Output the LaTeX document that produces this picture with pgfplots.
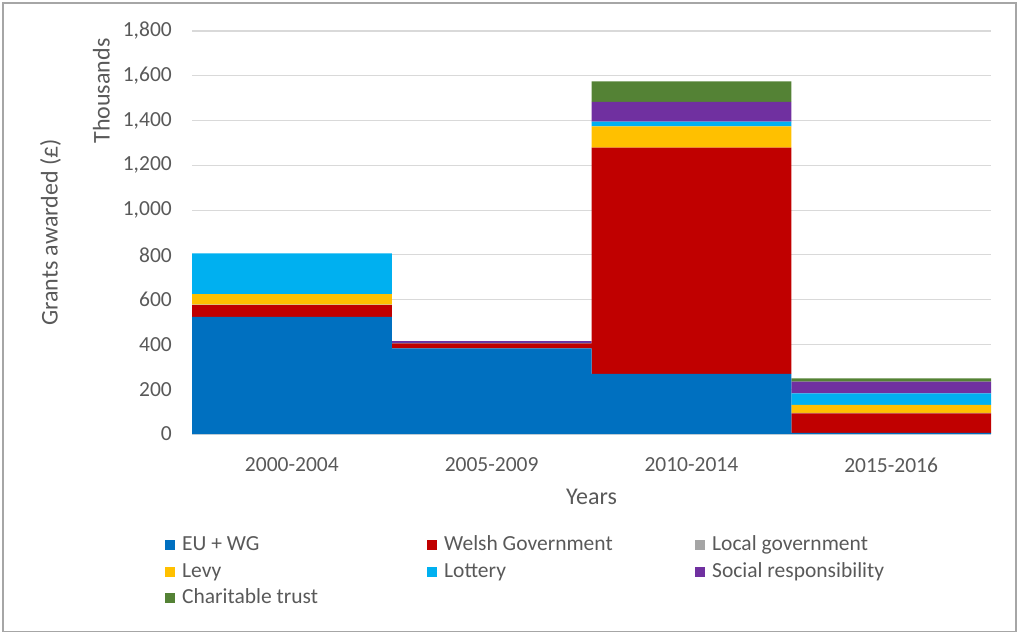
\documentclass[border=0pt]{standalone}
\usepackage{pgfplots}
\usepackage{pgfplotstable}
\pgfplotsset{compat=1.18}
\usepackage{fontspec}
\setmainfont{Carlito}

\definecolor{txt}{HTML}{595959}
\definecolor{gridc}{HTML}{D9D9D9}
\definecolor{framec}{HTML}{A6A6A6}
\definecolor{cEU}{HTML}{0070C0}
\definecolor{cWG}{HTML}{C00000}
\definecolor{cLG}{HTML}{A5A5A5}
\definecolor{cLevy}{HTML}{FFC000}
\definecolor{cLot}{HTML}{00B0F0}
\definecolor{cSoc}{HTML}{7030A0}
\definecolor{cChar}{HTML}{548235}

% Grants awarded (thousands of pounds) by funding source and period
\pgfplotstableread{
x   eu    wg    lg  levy  lot  soc  char
0   523   53    2   47    182  0    0
1   383   22    0   0     2    8    0
2   268   1011  0   95    21   88   92
3   5     87    2   36    52   52   15
}\grants

\newcommand{\tickfont}{\fontsize{21.5}{25}\selectfont}
\newcommand{\titlefont}{\fontsize{24}{28}\selectfont}

\begin{document}
\begin{tikzpicture}[x=1pt,y=1pt]
\useasboundingbox (0,0) rectangle (1019,634);
\draw[color=framec, line width=1.2pt] (3,2.5) rectangle (1016,631);
\begin{axis}[
  at={(192pt,200pt)}, anchor=south west,
  scale only axis, width=799pt, height=403pt,
  clip mode=individual,
  ybar stacked, bar width=1,
  xmin=-0.5, xmax=3.5, ymin=0, ymax=1800,
  ytick={0,200,...,1800},
  xtick={0,1,2,3},
  xticklabels={2000-2004,2005-2009,2010-2014,2015-2016},
  axis line style={draw=none},
  major tick length=0pt,
  ymajorgrids, grid style={color=gridc, line width=1.2pt},
  /pgf/number format/assume math mode=true,
  /pgf/number format/.cd, 1000 sep={,}, /pgfplots/.cd,
  ticklabel style={font=\tickfont, text=txt},
  yticklabel style={anchor=east, inner sep=0pt, xshift=-20pt},
  xticklabel style={anchor=center, yshift=-31pt},
  xlabel={Years},
  ylabel={Grants awarded (£)},
  label style={font=\titlefont, text=txt},
  xlabel style={at={(axis description cs:0.5,-0.156)}, anchor=center},
  ylabel style={at={(axis description cs:-0.177,0.5)}, anchor=center},
  legend columns=3,
  legend image code/.code={\fill[#1] (0pt,-5pt) rectangle (10pt,5pt);},
  legend style={
    draw=none, fill=none, inner sep=0pt,
    at={(-0.0338,-0.2531)}, anchor=north west,
    font=\tickfont, text=txt,
    row sep=8pt,
    nodes={inner sep=0pt, text height=14.5pt, text depth=4pt},
    /tikz/every odd column/.append style={column sep=7pt},
  },
  legend cell align=left,
]
\addplot+[fill=cEU, draw=none] table[x=x, y=eu] {\grants};
\addlegendentry{\makebox[245pt][l]{EU + WG}}
\addplot+[fill=cWG, draw=none] table[x=x, y=wg] {\grants};
\addlegendentry{\makebox[251pt][l]{Welsh Government}}
\addplot+[fill=cLG, draw=none] table[x=x, y=lg] {\grants};
\addlegendentry{Local government}
\addplot+[fill=cLevy, draw=none] table[x=x, y=levy] {\grants};
\addlegendentry{\makebox[245pt][l]{Levy}}
\addplot+[fill=cLot, draw=none] table[x=x, y=lot] {\grants};
\addlegendentry{\makebox[251pt][l]{Lottery}}
\addplot+[fill=cSoc, draw=none] table[x=x, y=soc] {\grants};
\addlegendentry{Social responsibility}
\addplot+[fill=cChar, draw=none] table[x=x, y=char] {\grants};
\addlegendentry{\makebox[245pt][l]{Charitable trust}}
\node[rotate=90, font=\titlefont, text=txt] at (axis description cs:-0.1133,0.851) {Thousands};
\end{axis}
\end{tikzpicture}
\end{document}
